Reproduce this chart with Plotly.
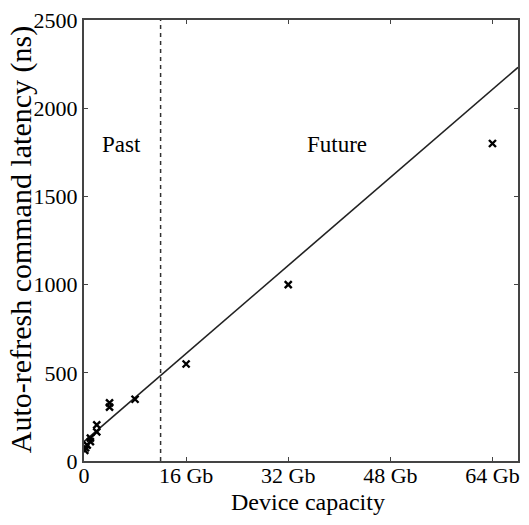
import plotly.graph_objects as go

capacity_gb = [0.125, 0.25, 0.5, 1, 1, 2, 2, 4, 4, 8, 16, 32, 64]
latency_ns = [60, 75, 90, 110, 130, 165, 205, 305, 330, 350, 550, 1000, 1800]

fit_x = [0, 68]
fit_intercept = 110
fit_slope = 31.2
fit_y = [fit_intercept + fit_slope * v for v in fit_x]

boundary_gb = 12
x_ticks = [0, 16, 32, 48, 64]
x_tick_labels = ["0", "16 Gb", "32 Gb", "48 Gb", "64 Gb"]
y_ticks = [0, 500, 1000, 1500, 2000, 2500]

font = "Liberation Serif"

fig = go.Figure()
fig.add_trace(go.Scatter(x=fit_x, y=fit_y, mode="lines",
                         line=dict(color="#222", width=1.6), showlegend=False))
fig.add_trace(go.Scatter(x=[boundary_gb, boundary_gb], y=[0, 2500], mode="lines",
                         line=dict(color="#333", width=1.5, dash="4px,4px"), showlegend=False))
fig.add_trace(go.Scatter(x=capacity_gb, y=latency_ns, mode="markers",
                         marker=dict(symbol="x-thin-open", size=7, color="black",
                                     line=dict(color="black", width=2.4)),
                         showlegend=False))

fig.add_annotation(x=5.8, y=1795, text="Past", showarrow=False,
                   font=dict(family=font, size=23, color="black"))
fig.add_annotation(x=39.6, y=1795, text="Future", showarrow=False,
                   font=dict(family=font, size=23, color="black"))

# axis titles
fig.add_annotation(xref="paper", yref="paper", x=0.516, y=-0.093, text="Device capacity",
                   showarrow=False, xanchor="center", yanchor="middle",
                   font=dict(family=font, size=24, color="black"))
fig.add_annotation(xref="paper", yref="paper", x=-0.145, y=0.501,
                   text="Auto-refresh command latency (ns)", textangle=-90,
                   showarrow=False, xanchor="center", yanchor="middle",
                   font=dict(family=font, size=30, color="black"))

fig.update_layout(
    width=529, height=525,
    margin=dict(l=84, r=11, t=20, b=64),
    paper_bgcolor="white", plot_bgcolor="white",
    font=dict(family=font, size=22, color="black"),
)
fig.update_xaxes(range=[0, 68], tickvals=x_ticks, ticktext=x_tick_labels, automargin=False,
                 showgrid=False, zeroline=False, showline=True, linecolor="#444", linewidth=2,
                 mirror="ticks", ticks="inside", ticklen=4, tickcolor="#444",
                 ticklabelstandoff=-6, tickfont=dict(family=font, size=22))
fig.update_yaxes(range=[0, 2500], tickvals=y_ticks, automargin=False,
                 showgrid=False, zeroline=False, showline=True, linecolor="#444", linewidth=2,
                 mirror="ticks", ticks="inside", ticklen=4, tickcolor="#444",
                 tickfont=dict(family=font, size=22))

fig.write_html("out.html", config={"displayModeBar": False},
               post_script="document.body.style.margin='0';")
